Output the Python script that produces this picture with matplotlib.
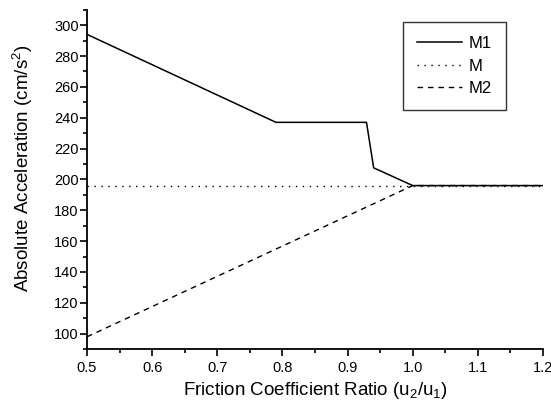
import matplotlib
matplotlib.use("Agg")
import matplotlib.pyplot as plt
from matplotlib.ticker import MultipleLocator, FormatStrFormatter

plt.rcParams['font.family'] = ['Liberation Sans', 'DejaVu Sans']
plt.rcParams['mathtext.default'] = 'regular'

# DATA
m1_x = [0.5, 0.79, 0.80, 0.929, 0.94, 1.0, 1.2]
m1_y = [294, 237, 237, 237, 207.5, 196, 196]

m_x = [0.5, 1.2]
m_y = [196, 196]

m2_x = [0.5, 1.0, 1.2]
m2_y = [98, 196, 196]

fig = plt.figure(figsize=(5.51, 4.05), dpi=100)
ax = fig.add_axes([0.158, 0.138, 0.8275, 0.838])

ax.plot(m1_x, m1_y, color='black', lw=1.1, ls='-', label='M1')
ax.plot(m_x, m_y, color='black', lw=1.0, ls=(0, (1, 4)), label='M')
ax.plot(m2_x, m2_y, color='black', lw=1.0, ls=(0, (4, 3.5)), label='M2')

ax.set_xlim(0.5, 1.2)
ax.set_ylim(90, 310)
ax.xaxis.set_major_locator(MultipleLocator(0.1))
ax.xaxis.set_minor_locator(MultipleLocator(0.05))
ax.yaxis.set_minor_locator(MultipleLocator(10))
ax.set_yticks(range(100, 301, 20))
ax.xaxis.set_major_formatter(FormatStrFormatter('%.1f'))

for s in ['top', 'right']:
    ax.spines[s].set_visible(False)
for s in ['left', 'bottom']:
    ax.spines[s].set_linewidth(1.3)

ax.tick_params(which='major', direction='out', length=5, width=1.2, labelsize=10.5)
ax.tick_params(which='minor', direction='out', length=2.7, width=1.2)
ax.tick_params(axis='y', which='major', pad=1)
ax.tick_params(axis='x', which='major', pad=3.5)

ax.set_xlabel('Friction Coefficient Ratio (u$_2$/u$_1$)', fontsize=13.5, labelpad=4)
ax.set_ylabel('Absolute Acceleration (cm/s$^2$)', fontsize=13.5)
ax.yaxis.set_label_coords(-0.114, 0.533)

leg = ax.legend(loc='upper right', bbox_to_anchor=(0.919, 0.9635), fontsize=12,
                frameon=True, fancybox=False, handlelength=2.7,
                handletextpad=0.4, labelspacing=0.45, borderpad=0.85,
                borderaxespad=0)
leg.get_frame().set_edgecolor('black')
leg.get_frame().set_linewidth(1.0)

fig.savefig('out.png', dpi=100)
